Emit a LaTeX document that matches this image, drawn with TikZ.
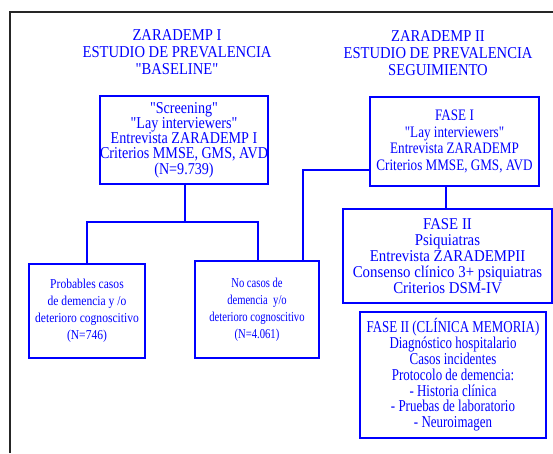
\documentclass[tikz,border=0pt]{standalone}
\usepackage{fontspec}
\setmainfont{Liberation Serif}
\newfontfamily\fntTitle[FakeStretch=0.88]{Liberation Serif}
\newfontfamily\fntB[FakeStretch=0.85]{Liberation Serif}
\newfontfamily\fntC[FakeStretch=0.82]{Liberation Serif}
\newfontfamily\fntD[FakeStretch=0.90]{Liberation Serif}
\newfontfamily\fntE[FakeStretch=0.78]{Liberation Serif}
\newfontfamily\fntF[FakeStretch=0.80]{Liberation Serif}
\begin{document}
\begin{tikzpicture}[x=1pt,y=1pt,
  ttl/.style={text=blue, align=center, inner sep=0pt, font=\fntTitle\fontsize{16.6}{17}\selectfont},
  box/.style={draw=blue, line width=1.8pt, text=blue, align=center, inner sep=0pt},
  conn/.style={draw=blue, line width=2.4pt}]
\useasboundingbox (0,0) rectangle (553,-453);
% outer frame
\draw[black!85, line width=1.6pt] (10,-453) -- (10,-12) -- (553,-12);
% titles
\node[ttl] (t1) at (177,-52) {ZARADEMP I\\ESTUDIO DE PREVALENCIA\\"BASELINE"};
\node[ttl] (t2) at (438,-53) {ZARADEMP II\\ESTUDIO DE PREVALENCIA\\SEGUIMIENTO};
% left column
\node[box, minimum width=168pt, minimum height=88pt, font=\fntB\fontsize{16.6}{15.2}\selectfont] (b1) at (184,-140)
  {"Screening"\\"Lay interviewers"\\Entrevista ZARADEMP I\\Criterios MMSE, GMS, AVD\\(N=9.739)};
\node[box, minimum width=116pt, minimum height=94pt, font=\fntB\fontsize{13.6}{17}\selectfont] (b2) at (87,-311)
  {Probables casos\\de demencia y /o\\deterioro cognoscitivo\\(N=746)};
\node[box, minimum width=124pt, minimum height=97pt, font=\fntE\fontsize{13.6}{17}\selectfont] (b3) at (257,-309.5)
  {No casos de\\demencia \ y/o\\deterioro cognoscitivo\\(N=4.061)};
% right column
\node[box, minimum width=169pt, minimum height=89pt, font=\fntC\fontsize{16}{16.7}\selectfont] (f1) at (454.5,-141.5)
  {FASE I\\"Lay interviewers"\\Entrevista ZARADEMP\\Criterios MMSE, GMS, AVD};
\node[box, minimum width=209pt, minimum height=94pt, font=\fntD\fontsize{16.5}{16}\selectfont] (f2) at (447.5,-256)
  {FASE II\\Psiquiatras\\Entrevista ZARADEMPII\\Consenso clínico 3+ psiquiatras\\Criterios DSM-IV};
\node[box, minimum width=186pt, minimum height=126pt, font=\fntE\fontsize{16.6}{15.8}\selectfont] (f3) at (453,-375)
  {FASE II (CLÍNICA MEMORIA)\\Diagnóstico hospitalario\\Casos incidentes\\Protocolo de demencia:\\- Historia clínica\\- Pruebas de laboratorio\\- Neuroimagen};
% connectors
\coordinate (j) at (185,-222);
\draw[conn] (b1.south -| j) -- (j);
\draw[conn] (j) -| (b2.north);
\draw[conn] (j) -| ([xshift=1pt]b3.north);
\draw[conn] ([yshift=-28.5pt]f1.west) -| ([xshift=46pt]b3.north);
\draw[conn] ([xshift=-8.5pt]f1.south) -- ([xshift=-8.5pt]f1.south |- f2.north);
\end{tikzpicture}
\end{document}
